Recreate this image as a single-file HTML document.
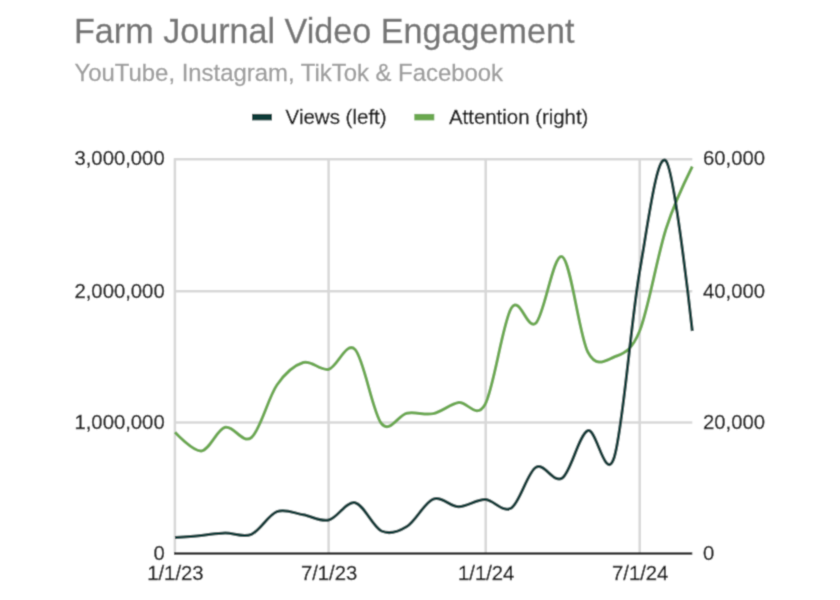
<!DOCTYPE html>
<html><head><meta charset="utf-8"><style>
html,body{margin:0;padding:0;background:#fff;width:840px;height:600px;overflow:hidden}
svg{display:block;font-family:"Liberation Sans",sans-serif}
</style></head><body>
<svg width="840" height="600" viewBox="0 0 840 600" font-family="'Liberation Sans', sans-serif">
<defs><filter id="bl" filterUnits="userSpaceOnUse" x="0" y="0" width="840" height="600"><feConvolveMatrix order="3" kernelMatrix="1 4 1 4 16 4 1 4 1" divisor="36" edgeMode="duplicate" preserveAlpha="false"/></filter></defs>
<rect x="0" y="0" width="840" height="600" fill="#fff"/>
<g filter="url(#bl)">
<rect x="0" y="0" width="840" height="600" fill="#fff"/>
<line x1="174.0" y1="159.2" x2="692.3" y2="159.2" stroke="#d8d8d8" stroke-width="2.5"/>
<line x1="174.0" y1="291.3" x2="692.3" y2="291.3" stroke="#d8d8d8" stroke-width="2.5"/>
<line x1="174.0" y1="422.4" x2="692.3" y2="422.4" stroke="#d8d8d8" stroke-width="2.5"/>
<line x1="174.9" y1="158.2" x2="174.9" y2="553.5" stroke="#d8d8d8" stroke-width="2.5"/>
<line x1="328.6" y1="158.2" x2="328.6" y2="553.5" stroke="#d8d8d8" stroke-width="2.5"/>
<line x1="485.7" y1="158.2" x2="485.7" y2="553.5" stroke="#d8d8d8" stroke-width="2.5"/>
<line x1="639.7" y1="158.2" x2="639.7" y2="553.5" stroke="#d8d8d8" stroke-width="2.5"/>
<line x1="174.0" y1="553.5" x2="692.3" y2="553.5" stroke="#2a2a2a" stroke-width="2.6"/>
<path d="M175.00,432.20 C175.00,432.20 192.98,451.72 201.33,450.90 C209.69,450.08 216.76,429.53 225.12,427.30 C233.47,425.07 242.81,444.55 251.45,437.50 C260.09,430.45 268.29,397.50 276.93,385.00 C285.57,372.50 294.63,365.13 303.26,362.50 C311.90,359.87 320.11,371.37 328.75,369.20 C337.38,367.03 346.30,340.45 355.08,349.50 C363.86,358.55 372.77,412.88 381.41,423.50 C390.05,434.12 398.26,414.85 406.89,413.20 C415.53,411.55 424.59,415.37 433.23,413.60 C441.86,411.83 450.07,404.12 458.71,402.60 C467.35,401.08 476.26,420.27 485.04,404.50 C493.82,388.73 502.88,321.59 511.37,308.00 C519.87,294.41 527.51,331.54 536.01,323.00 C544.50,314.46 553.70,251.97 562.34,256.80 C570.98,261.63 579.18,335.30 587.82,352.00 C596.46,368.70 605.52,360.50 614.15,357.00 C622.79,353.50 631.00,352.34 639.64,331.00 C648.27,309.66 657.19,256.42 665.97,229.00 C674.75,201.58 692.30,166.50 692.30,166.50" fill="none" stroke="#6aa84f" stroke-width="3" stroke-linejoin="round" stroke-linecap="butt"/>
<path d="M175.00,537.50 C175.00,537.50 192.98,536.15 201.33,535.40 C209.69,534.65 216.76,533.18 225.12,533.00 C233.47,532.82 242.81,537.87 251.45,534.30 C260.09,530.73 268.29,514.85 276.93,511.60 C285.57,508.35 294.63,513.40 303.26,514.80 C311.90,516.20 320.11,522.02 328.75,520.00 C337.38,517.98 346.30,500.87 355.08,502.70 C363.86,504.53 372.77,527.03 381.41,531.00 C390.05,534.97 398.26,531.82 406.89,526.50 C415.53,521.18 424.59,502.38 433.23,499.10 C441.86,495.82 450.07,506.72 458.71,506.80 C467.35,506.88 476.26,499.40 485.04,499.60 C493.82,499.80 502.88,513.38 511.37,508.00 C519.87,502.62 527.51,472.30 536.01,467.30 C544.50,462.30 553.70,484.10 562.34,478.00 C570.98,471.90 579.18,434.12 587.82,430.70 C596.46,427.28 605.52,484.04 614.15,457.50 C622.79,430.96 631.00,320.93 639.64,271.50 C648.27,222.07 657.19,151.08 665.97,161.00 C674.75,170.92 692.30,331.00 692.30,331.00" fill="none" stroke="#0c3a37" stroke-width="3" stroke-linejoin="round" stroke-linecap="butt"/>
<text x="164.7" y="165.4" text-anchor="end" font-size="20.3" fill="#181818" stroke="#181818" stroke-width="0.35">3,000,000</text>
<text x="164.7" y="297.5" text-anchor="end" font-size="20.3" fill="#181818" stroke="#181818" stroke-width="0.35">2,000,000</text>
<text x="164.7" y="428.6" text-anchor="end" font-size="20.3" fill="#181818" stroke="#181818" stroke-width="0.35">1,000,000</text>
<text x="164.7" y="559.7" text-anchor="end" font-size="20.3" fill="#181818" stroke="#181818" stroke-width="0.35">0</text>
<text x="703" y="165.4" font-size="20.3" fill="#181818" stroke="#181818" stroke-width="0.35">60,000</text>
<text x="703" y="297.5" font-size="20.3" fill="#181818" stroke="#181818" stroke-width="0.35">40,000</text>
<text x="703" y="428.6" font-size="20.3" fill="#181818" stroke="#181818" stroke-width="0.35">20,000</text>
<text x="703" y="559.7" font-size="20.3" fill="#181818" stroke="#181818" stroke-width="0.35">0</text>
<text x="175.4" y="580" text-anchor="middle" font-size="20.3" fill="#181818" stroke="#181818" stroke-width="0.35">1/1/23</text>
<text x="329.1" y="580" text-anchor="middle" font-size="20.3" fill="#181818" stroke="#181818" stroke-width="0.35">7/1/23</text>
<text x="486.2" y="580" text-anchor="middle" font-size="20.3" fill="#181818" stroke="#181818" stroke-width="0.35">1/1/24</text>
<text x="640.2" y="580" text-anchor="middle" font-size="20.3" fill="#181818" stroke="#181818" stroke-width="0.35">7/1/24</text>
<rect x="252" y="113.9" width="20" height="6.5" fill="#0c3a37"/>
<rect x="414.3" y="113.9" width="20" height="6.5" fill="#6aa84f"/>
<text x="285.6" y="123.6" font-size="20.5" fill="#181818" stroke="#181818" stroke-width="0.35">Views (left)</text>
<text x="449" y="123.6" font-size="20.4" fill="#181818" stroke="#181818" stroke-width="0.35">Attention (right)</text>
<text x="74" y="42.6" font-size="34.15" fill="#757575" stroke="#757575" stroke-width="0.3">Farm Journal Video Engagement</text>
<text x="74.5" y="81.2" font-size="23.9" fill="#9e9e9e" stroke="#9e9e9e" stroke-width="0.3">YouTube, Instagram, TikTok &amp; Facebook</text>
</g>
</svg>
</body></html>
